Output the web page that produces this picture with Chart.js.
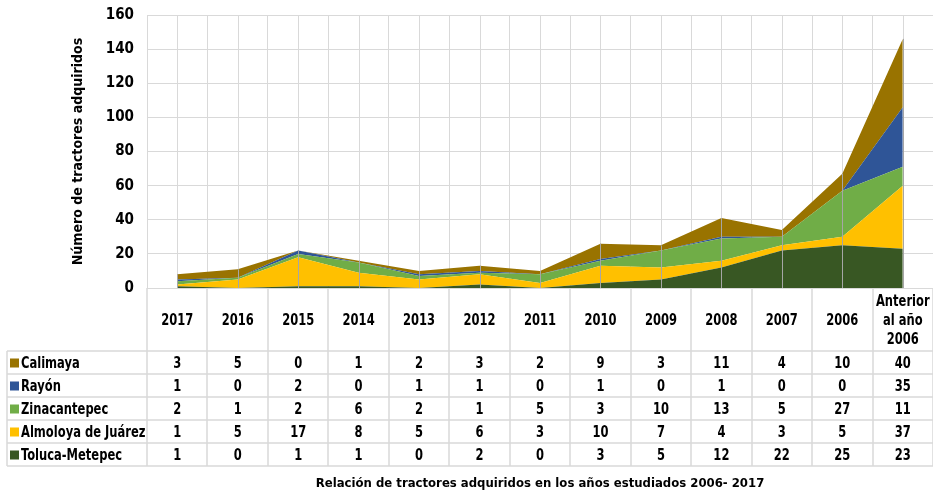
<!DOCTYPE html>
<html>
<head>
<meta charset="utf-8">
<script src="https://cdn.jsdelivr.net/npm/chart.js@4"></script>
<style>
  html, body { margin: 0; padding: 0; background: #fff; }
  #wrap { width: 933px; height: 495px; }
</style>
</head>
<body>
<div id="wrap"><canvas id="tractorChart"></canvas></div>
<script>
var categories = ["2017", "2016", "2015", "2014", "2013", "2012", "2011", "2010", "2009", "2008", "2007", "2006", ["Anterior", "al año", "2006"]];
var toluca = [1, 0, 1, 1, 0, 2, 0, 3, 5, 12, 22, 25, 23];
var almoloya = [1, 5, 17, 8, 5, 6, 3, 10, 7, 4, 3, 5, 37];
var zinacantepec = [2, 1, 2, 6, 2, 1, 5, 3, 10, 13, 5, 27, 11];
var rayon = [1, 0, 2, 0, 1, 1, 0, 1, 0, 1, 0, 0, 35];
var calimaya = [3, 5, 0, 1, 2, 3, 2, 9, 3, 11, 4, 10, 40];
var yTicks = [0, 20, 40, 60, 80, 100, 120, 140, 160];

var FONT = '"DejaVu Sans Condensed", "Liberation Sans Narrow", sans-serif';
var gridColor = "#d9d9d9";

function series(label, data, color, fill) {
  return {
    label: label,
    data: data,
    backgroundColor: color,
    borderColor: "rgba(0,0,0,0)",
    borderWidth: 0,
    pointRadius: 0,
    pointHoverRadius: 0,
    tension: 0,
    fill: fill
  };
}

// narrow text, like the condensed font of the original table
function narrowText(ctx, text, x, y) {
  ctx.save();
  ctx.translate(x, y);
  ctx.scale(0.8, 1);
  ctx.fillText(text, 0, 0);
  ctx.restore();
}

// table under the plot, gridlines at the category centres and drop lines
var tablePlugin = {
  id: "tablePlugin",
  beforeDatasetsDraw: function(chart) {
    var ctx = chart.ctx, x = chart.scales.x, area = chart.chartArea;
    ctx.save();
    ctx.strokeStyle = gridColor;
    ctx.lineWidth = 1;
    for (var i = 0; i < categories.length; i++) {
      var px = Math.round(x.getPixelForValue(i)) + 0.5;
      ctx.beginPath();
      ctx.moveTo(px, area.top);
      ctx.lineTo(px, area.bottom);
      ctx.stroke();
    }
    ctx.restore();
  },
  afterDatasetsDraw: function(chart) {
    var ctx = chart.ctx, x = chart.scales.x, y = chart.scales.y;
    ctx.save();
    ctx.strokeStyle = "#a6a6a6";
    ctx.lineWidth = 1;
    for (var i = 0; i < categories.length; i++) {
      var total = 0;
      chart.data.datasets.forEach(function(d) { total += d.data[i]; });
      var px = Math.round(x.getPixelForValue(i)) + 0.5;
      ctx.beginPath();
      ctx.moveTo(px, y.getPixelForValue(0));
      ctx.lineTo(px, y.getPixelForValue(total));
      ctx.stroke();
    }
    ctx.restore();
  },
  afterDraw: function(chart) {
    var ctx = chart.ctx, x = chart.scales.x, area = chart.chartArea;
    var headTop = area.bottom, rowTop = 351, rowH = 23;
    var rows = chart.data.datasets.slice().reverse();
    var tableBottom = rowTop + rowH * rows.length;
    var colW = (area.right - area.left) / categories.length;
    ctx.save();
    ctx.strokeStyle = gridColor;
    ctx.lineWidth = 1.5;
    // vertical lines
    for (var i = 0; i <= categories.length; i++) {
      var bx = Math.round(area.left + i * colW);
      ctx.beginPath();
      ctx.moveTo(bx, headTop);
      ctx.lineTo(bx, tableBottom);
      ctx.stroke();
    }
    ctx.beginPath();
    ctx.moveTo(7, rowTop);
    ctx.lineTo(7, tableBottom);
    ctx.stroke();
    // horizontal lines
    for (var r = 0; r <= rows.length; r++) {
      var ly = rowTop + r * rowH;
      ctx.beginPath();
      ctx.moveTo(7, ly);
      ctx.lineTo(area.right, ly);
      ctx.stroke();
    }
    // header
    ctx.fillStyle = "#000";
    ctx.font = "bold 16px " + FONT;
    ctx.textAlign = "center";
    ctx.textBaseline = "middle";
    categories.forEach(function(c, i) {
      var cx = x.getPixelForValue(i);
      var lines = Array.isArray(c) ? c : [c];
      var mid = (headTop + rowTop) / 2 + 1;
      lines.forEach(function(t, k) {
        narrowText(ctx, t, cx, mid + (k - (lines.length - 1) / 2) * 19);
      });
    });
    // rows
    rows.forEach(function(d, r) {
      var cy = rowTop + r * rowH + rowH / 2 + 1;
      ctx.fillStyle = d.backgroundColor;
      ctx.fillRect(10, cy - 5, 9, 9);
      ctx.fillStyle = "#000";
      ctx.textAlign = "left";
      narrowText(ctx, d.label, 21, cy);
      ctx.textAlign = "center";
      d.data.forEach(function(v, i) {
        narrowText(ctx, String(v), x.getPixelForValue(i), cy);
      });
    });
    ctx.restore();
  }
};

new Chart("tractorChart", {
  type: "line",
  data: {
    labels: categories,
    datasets: [
      series("Toluca-Metepec", toluca, "#385723", "origin"),
      series("Almoloya de Juárez", almoloya, "#ffc000", "-1"),
      series("Zinacantepec", zinacantepec, "#70ad47", "-1"),
      series("Rayón", rayon, "#2f5597", "-1"),
      series("Calimaya", calimaya, "#997300", "-1")
    ]
  },
  options: {
    responsive: true,
    maintainAspectRatio: false,
    animation: false,
    layout: { padding: { left: 70, right: 0, top: 15, bottom: 0 } },
    plugins: {
      legend: { display: false },
      tooltip: { enabled: false }
    },
    scales: {
      x: {
        offset: true,
        grid: { offset: true, color: gridColor, drawTicks: false },
        border: { color: gridColor },
        ticks: { display: false },
        title: {
          display: true,
          text: "Relación de tractores adquiridos en los años estudiados 2006- 2017",
          color: "#000",
          font: { family: FONT, size: 13, weight: "bold" },
          padding: { top: 0, bottom: 4 }
        },
        afterFit: function(scale) { scale.height = 207; }
      },
      y: {
        stacked: true,
        min: 0,
        max: 160,
        afterBuildTicks: function(scale) {
          scale.ticks = yTicks.map(function(v) { return { value: v }; });
        },
        grid: { color: gridColor, drawTicks: false },
        border: { display: false },
        ticks: {
          color: "#000",
          padding: 13,
          font: { family: FONT, size: 15, weight: "bold" }
        },
        title: {
          display: true,
          text: "Número de tractores adquiridos",
          color: "#000",
          font: { family: FONT, size: 14, weight: "bold" },
          padding: 0
        },
        afterFit: function(scale) {
          scale.width = 77;
          scale.paddingTop = 0;
          scale.paddingBottom = 0;
        }
      }
    }
  },
  plugins: [tablePlugin]
});
</script>
</body>
</html>
